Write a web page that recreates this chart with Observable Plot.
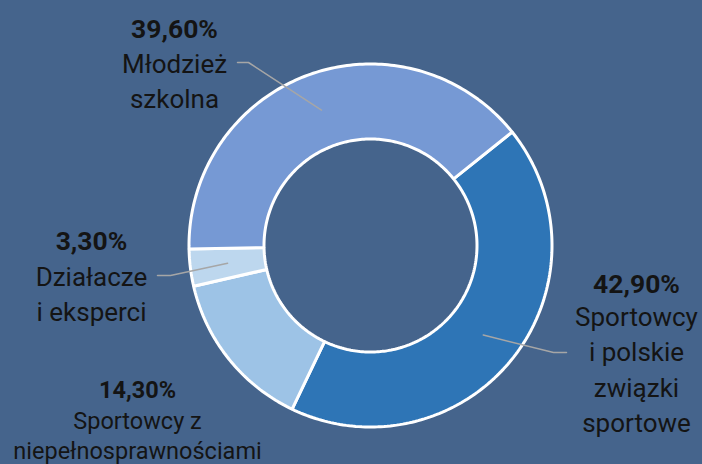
<!DOCTYPE html>
<html><head><meta charset="utf-8">
<script src="https://cdn.jsdelivr.net/npm/d3@7"></script>
<script src="https://cdn.jsdelivr.net/npm/@observablehq/plot@0.6"></script>
<style>
html,body{margin:0;padding:0;background:#45648C;}
#chart{width:702px;height:464px;}
</style></head><body><div id="chart"></div>
<script>
// ---- data ----
const categories = ["Sportowcy i polskie związki sportowe", "Sportowcy z niepełnosprawnościami", "Działacze i eksperci", "Młodzież szkolna"];
const shares = [42.9, 14.3, 3.3, 39.6];
const labelLines = [["Sportowcy", "i polskie", "związki", "sportowe"], ["Sportowcy z", "niepełnosprawnościami"], ["Działacze", "i eksperci"], ["Młodzież", "szkolna"]];
const colors = ["#2E75B6", "#9DC3E6", "#BDD7EE", "#7699D4"];

// ---- layout (pixels) ----
const W = 702, H = 464, cx = 370, cy = 245, R0 = 106.5, R1 = 181.5, Rmid = 144;
const startAngle = 51.3; // degrees clockwise from 12 o'clock
const labelLayout = [
  {x: 636, pct: 292, first: 325, lh: 35.5, size: 26, pctSize: 26.5, elbow: [553, 352], end: [566, 352]},
  {x: 137, pct: 397, first: 428, lh: 30, size: 23.5, pctSize: 23.5, elbow: null, end: null},
  {x: 91, pct: 249, first: 285, lh: 35, size: 26, pctSize: 26.5, elbow: [170, 275], end: [157, 275]},
  {x: 174, pct: 37, first: 72, lh: 35, size: 26, pctSize: 26.5, elbow: [248, 62], end: [237, 62]}
];

const total = d3.sum(shares);
const toRad = d => d * Math.PI / 180;
const px = (r, a) => cx + r * Math.sin(toRad(a));
const py = (r, a) => cy - r * Math.cos(toRad(a));

// slices as polygons
const slicePts = [];
const mids = [];
let acc = startAngle;
shares.forEach((v, i) => {
  const a0 = acc, a1 = acc + v / total * 360;
  acc = a1;
  mids.push((a0 + a1) / 2);
  const n = Math.max(4, Math.ceil((a1 - a0) / 1));
  for (let k = 0; k <= n; k++) { const a = a0 + (a1 - a0) * k / n; slicePts.push({cat: categories[i], x: px(R1, a), y: py(R1, a)}); }
  for (let k = n; k >= 0; k--) { const a = a0 + (a1 - a0) * k / n; slicePts.push({cat: categories[i], x: px(R0, a), y: py(R0, a)}); }
});

// leader lines
const leaderPts = [];
labelLayout.forEach((L, i) => {
  if (!L.elbow) return;
  leaderPts.push({cat: categories[i], x: px(Rmid, mids[i]), y: py(Rmid, mids[i])});
  leaderPts.push({cat: categories[i], x: L.elbow[0], y: L.elbow[1]});
  leaderPts.push({cat: categories[i], x: L.end[0], y: L.end[1]});
});

// text rows
const pctRows = shares.map((v, i) => ({text: v.toFixed(2).replace(".", ",") + "%", x: labelLayout[i].x, y: labelLayout[i].pct, size: labelLayout[i].pctSize}));
const nameRows = [];
labelLines.forEach((lines, i) => lines.forEach((t, k) => nameRows.push({text: t, x: labelLayout[i].x, y: labelLayout[i].first + k * labelLayout[i].lh, size: labelLayout[i].size})));

const textMarks = (rows, weight) => d3.groups(rows, r => r.size).map(([s, rs]) =>
  Plot.text(rs, {x: "x", y: "y", text: "text", fontSize: s, fontWeight: weight, fill: "#141414", lineAnchor: "bottom"}));

const chart = Plot.plot({
  width: W, height: H,
  margin: 0,
  style: {background: "#45648C", fontFamily: "Roboto"},
  x: {domain: [0, W], range: [0, W], axis: null},
  y: {domain: [0, H], range: [0, H], axis: null},
  color: {domain: categories, range: colors},
  marks: [
    Plot.line(slicePts, {x: "x", y: "y", z: "cat", fill: "cat", stroke: "white", strokeWidth: 3, curve: "linear-closed", strokeLinejoin: "miter"}),
    Plot.line(leaderPts, {x: "x", y: "y", z: "cat", stroke: "#A6A6A6", strokeWidth: 1.5}),
    ...textMarks(pctRows, "bold"),
    ...textMarks(nameRows, "normal")
  ]
});
document.getElementById("chart").appendChild(chart);
</script></body></html>
